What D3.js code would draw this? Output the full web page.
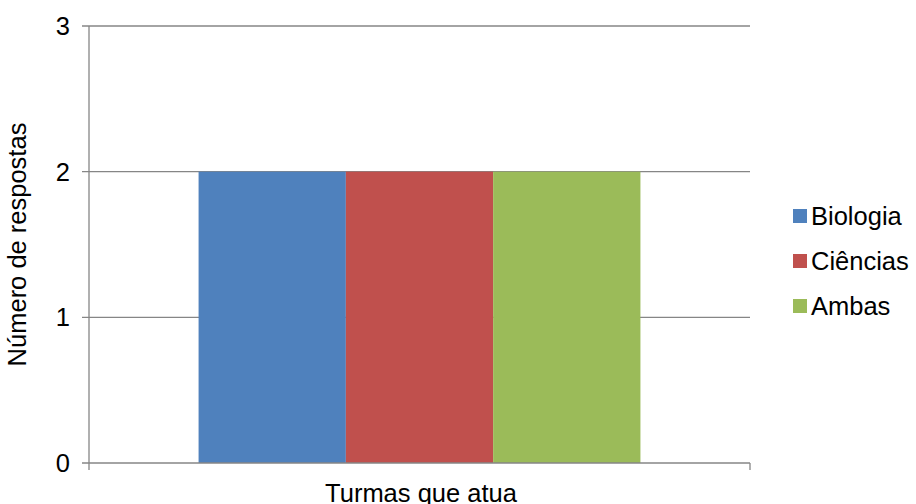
<!DOCTYPE html>
<html>
<head>
<meta charset="utf-8">
<title>chart</title>
<style>
  body { margin: 0; background: #fff; }
  text { font-family: "Liberation Sans", Arial, sans-serif; fill: #000; }
</style>
</head>
<body>
<div id="chart"></div>
<script src="https://cdn.jsdelivr.net/npm/d3@7/dist/d3.min.js"></script>
<script>
// dados
var categoria = 'Turmas que atua';
var series = ['Biologia', 'Ciências', 'Ambas'];
var valores = [2, 2, 2];
var cores = ['#4F81BD', '#C0504D', '#9BBB59'];
var yTicks = [0, 1, 2, 3];

var W = 916, H = 504, fs = 25.5;
var mLeft = 89, mRight = 750, mTop = 26, mBottom = 463;

var svg = d3.select('#chart').append('svg')
  .attr('width', W).attr('height', H);

var y = d3.scaleLinear().domain([0, 3]).range([mBottom, mTop]);
var x0 = d3.scaleBand().domain([categoria]).range([mLeft, mRight]).paddingInner(0).paddingOuter(0.248);
var x1 = d3.scaleBand().domain(series).range([0, x0.bandwidth()]);

// grade
svg.append('g').selectAll('line').data(yTicks.filter(d => d > 0)).join('line')
  .attr('x1', mLeft - 7).attr('x2', mRight)
  .attr('y1', d => y(d)).attr('y2', d => y(d))
  .attr('stroke', '#868686').attr('stroke-width', 1.3);

// barras
svg.append('g').selectAll('rect').data(series).join('rect')
  .attr('x', d => x0(categoria) + x1(d))
  .attr('width', x1.bandwidth())
  .attr('y', (d, i) => y(valores[i]))
  .attr('height', (d, i) => mBottom - y(valores[i]))
  .attr('fill', (d, i) => cores[i]);

// eixos
svg.append('line').attr('x1', mLeft).attr('x2', mLeft).attr('y1', mTop).attr('y2', mBottom + 7)
  .attr('stroke', '#868686').attr('stroke-width', 1.3);
svg.append('line').attr('x1', mLeft - 7).attr('x2', mRight).attr('y1', mBottom).attr('y2', mBottom)
  .attr('stroke', '#868686').attr('stroke-width', 1.3);
svg.append('line').attr('x1', mRight).attr('x2', mRight).attr('y1', mBottom).attr('y2', mBottom + 7)
  .attr('stroke', '#868686').attr('stroke-width', 1.3);

svg.append('g').selectAll('text').data(yTicks).join('text')
  .attr('x', mLeft - 19).attr('y', d => y(d)).attr('dy', '0.35em')
  .attr('text-anchor', 'end').style('font-size', fs + 'px')
  .text(d => d);

svg.append('text')
  .attr('transform', 'translate(26,' + ((mTop + mBottom) / 2) + ') rotate(-90)')
  .attr('text-anchor', 'middle').style('font-size', fs + 'px')
  .text('Número de respostas');

svg.append('text')
  .attr('x', 421).attr('y', 502)
  .attr('text-anchor', 'middle').style('font-size', fs + 'px')
  .text(categoria);

// legenda
var leg = svg.append('g').selectAll('g').data(series).join('g')
  .attr('transform', (d, i) => 'translate(793,' + (216 + i * 45) + ')');
leg.append('rect').attr('x', 0).attr('y', -7).attr('width', 14).attr('height', 14)
  .attr('fill', (d, i) => cores[i]);
leg.append('text').attr('x', 18).attr('dy', '0.35em').style('font-size', fs + 'px').text(d => d);
</script>
</body>
</html>
